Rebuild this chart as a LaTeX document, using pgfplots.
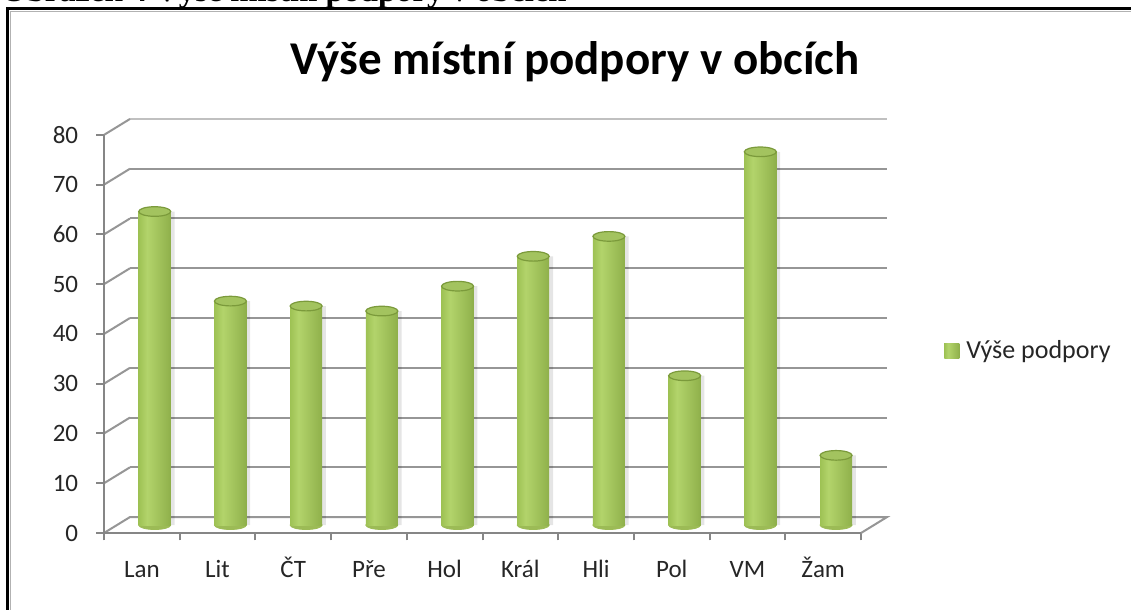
\documentclass[border=0pt]{standalone}
\usepackage{pgfplots}
\usepackage{pgfplotstable}
\pgfplotsset{compat=1.18}
\usepackage{fontspec}
\setmainfont{Carlito}
\newfontfamily\capfont{Liberation Serif}
\definecolor{gridc}{HTML}{969696}
\definecolor{axc}{HTML}{868686}
\definecolor{capc}{HTML}{A3C35F}
\definecolor{capd}{HTML}{7B9A3B}
\definecolor{botc}{HTML}{9CBB56}
\definecolor{legc}{HTML}{9BBB59}
\definecolor{txt}{HTML}{262626}
\pgfdeclarehorizontalshading{cyl}{100bp}{rgb(0bp)=(0.52,0.64,0.26); rgb(25bp)=(0.62,0.76,0.33); rgb(38bp)=(0.70,0.83,0.42); rgb(70bp)=(0.58,0.71,0.31); rgb(100bp)=(0.42,0.54,0.19)}
\pgfplotsset{cyl/.style={ybar, bar width=0.423, draw=none, shade, shading=cyl}}
\pgfplotstableread{
x v z
0.17 63 0
1.17 45 0
2.17 44 0
3.17 43 0
4.17 48 0
5.17 54 0
6.17 58 0
7.17 30 0
8.17 75 0
9.17 14 0
}\bardata
\pgfplotstableread{
x v
0.22 63
1.22 45
2.22 44
3.22 43
4.22 48
5.22 54
6.22 58
7.22 30
8.22 75
9.22 14
}\shadowdata
\begin{document}
\begin{tikzpicture}
\useasboundingbox (0,0) rectangle (565.5pt,305pt);
\clip (0,0) rectangle (565.5pt,305pt);
\fill[white] (0,0) rectangle (565.5pt,305pt);
\begin{scope}[x=0.5pt,y=-0.5pt,shift={(0pt,305pt)}]
\node[anchor=base west, inner sep=0, font=\capfont\bfseries\fontsize{16.3}{19}\selectfont] at (1,1.5) {Obrázek 4 Výše místní podpory v obcích};
\draw[black, line width=1.5pt] (7.5,620) -- (7.5,9) -- (1140,9);
\draw[gray!60, line width=0.5pt] (10.5,620) -- (10.5,12) -- (1140,12);
\node[anchor=base, inner sep=0, font=\bfseries\fontsize{23.5}{28}\selectfont] at (575,75) {Výše místní podpory v obcích};
\end{scope}
\begin{axis}[
  at={(52pt,38.5pt)}, anchor=south west, scale only axis,
  width=391.5pt, height=208pt,
  xmin=-0.5, xmax=9.843, ymin=-1.6, ymax=82,
  axis line style={draw=none},
  clip=false, clip marker paths=true,
  tick align=outside, xtick pos=left, ytick pos=left,
  tick style={axc, line width=1pt},
  major tick length=3.75pt,
  xtick={-0.5,0.5,1.5,2.5,3.5,4.5,5.5,6.5,7.5,8.5,9.5},
  xticklabels={},
  extra x ticks={0,1,2,3,4,5,6,7,8,9},
  extra x tick labels={Lan,Lit,ČT,Pře,Hol,Král,Hli,Pol,VM,Žam},
  extra x tick style={major tick length=0pt, tick style={draw=none},
     xticklabel style={anchor=base, inner sep=0pt, yshift=-22.5pt}},
  ytick={-1.6,8.4,18.4,28.4,38.4,48.4,58.4,68.4,78.4},
  yticklabels={0,10,20,30,40,50,60,70,80},
  yticklabel style={anchor=east, inner sep=0pt, xshift=-9pt},
  ticklabel style={font=\fontsize{12.5}{15}\selectfont, text=txt},
  /pgf/number format/assume math mode=true,
  legend style={at={(1.0728,0.4375)}, anchor=west, draw=none, fill=none,
     font=\fontsize{13}{15}\selectfont, text=txt, inner sep=0pt,
     column sep=2pt, nodes={inner sep=1.5pt}},
  legend image code/.code={\fill[legc] (0pt,-3.75pt) rectangle (7.5pt,3.75pt);},
]
% back wall grid
\draw[gridc, line width=1pt] (axis cs:-0.157,11.6) -- (axis cs:9.843,11.6);
\draw[gridc, line width=1pt] (axis cs:-0.157,21.6) -- (axis cs:9.843,21.6);
\draw[gridc, line width=1pt] (axis cs:-0.157,31.6) -- (axis cs:9.843,31.6);
\draw[gridc, line width=1pt] (axis cs:-0.157,41.6) -- (axis cs:9.843,41.6);
\draw[gridc, line width=1pt] (axis cs:-0.157,51.6) -- (axis cs:9.843,51.6);
\draw[gridc, line width=1pt] (axis cs:-0.157,61.6) -- (axis cs:9.843,61.6);
\draw[gridc, line width=1pt] (axis cs:-0.157,71.6) -- (axis cs:9.843,71.6);
\draw[gridc!60, line width=1pt] (axis cs:-0.157,81.6) -- (axis cs:9.843,81.6);
% left wall diagonals
\draw[gridc, line width=1pt] (axis cs:-0.5,8.4) -- (axis cs:-0.157,11.6);
\draw[gridc, line width=1pt] (axis cs:-0.5,18.4) -- (axis cs:-0.157,21.6);
\draw[gridc, line width=1pt] (axis cs:-0.5,28.4) -- (axis cs:-0.157,31.6);
\draw[gridc, line width=1pt] (axis cs:-0.5,38.4) -- (axis cs:-0.157,41.6);
\draw[gridc, line width=1pt] (axis cs:-0.5,48.4) -- (axis cs:-0.157,51.6);
\draw[gridc, line width=1pt] (axis cs:-0.5,58.4) -- (axis cs:-0.157,61.6);
\draw[gridc, line width=1pt] (axis cs:-0.5,68.4) -- (axis cs:-0.157,71.6);
\draw[gridc, line width=1pt] (axis cs:-0.5,78.4) -- (axis cs:-0.157,81.6);
% floor
\draw[gridc, line width=1pt] (axis cs:-0.5,-1.6) -- (axis cs:-0.157,1.6) -- (axis cs:9.843,1.6) -- (axis cs:9.5,-1.6);
\draw[axc, line width=1pt] (axis cs:-0.5,78.4) -- (axis cs:-0.5,-1.6) -- (axis cs:9.5,-1.6);
% soft shadows
\addplot[ybar, bar width=0.423, draw=none, fill=black, fill opacity=0.10, forget plot] table[x=x, y=v] {\shadowdata};
% bottom ellipses
\addplot[botc, only marks, mark=*, mark size=8pt, mark options={yscale=0.28, draw=botc, fill=botc}, forget plot] table[x=x, y=z] {\bardata};
% cylinder bodies
\addplot[cyl] coordinates {(0.17,63)};
\addlegendentry{Výše podpory}
\addplot[cyl, forget plot] coordinates {(1.17,45)};
\addplot[cyl, forget plot] coordinates {(2.17,44)};
\addplot[cyl, forget plot] coordinates {(3.17,43)};
\addplot[cyl, forget plot] coordinates {(4.17,48)};
\addplot[cyl, forget plot] coordinates {(5.17,54)};
\addplot[cyl, forget plot] coordinates {(6.17,58)};
\addplot[cyl, forget plot] coordinates {(7.17,30)};
\addplot[cyl, forget plot] coordinates {(8.17,75)};
\addplot[cyl, forget plot] coordinates {(9.17,14)};
% top caps
\addplot[capd, only marks, mark=*, mark size=8pt, mark options={yscale=0.3, fill=capc, draw=capd, line width=0.6pt}, forget plot] table[x=x, y=v] {\bardata};
\end{axis}
\end{tikzpicture}
\end{document}
